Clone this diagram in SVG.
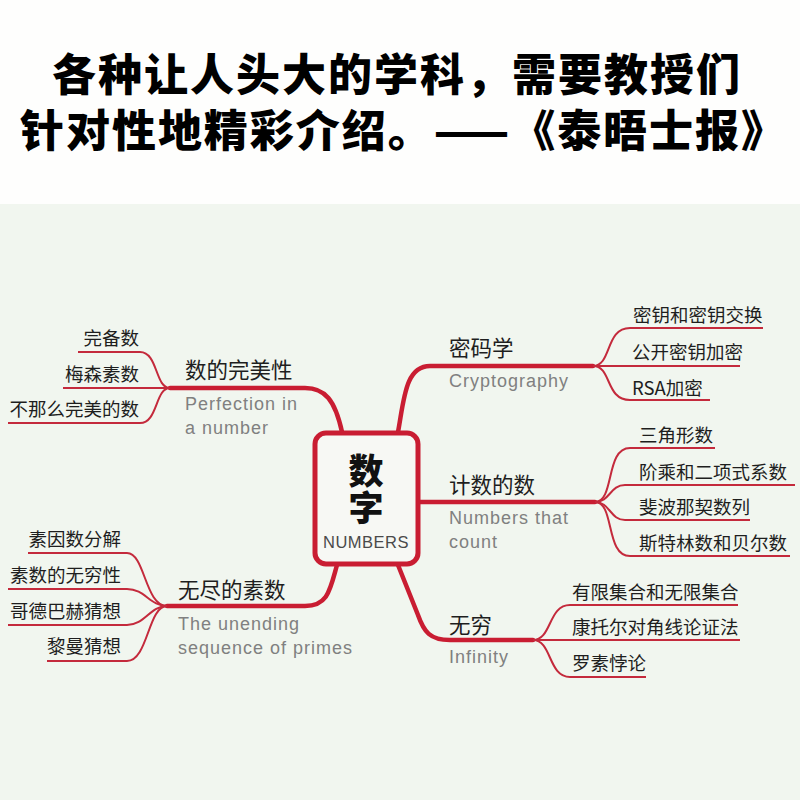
<svg xmlns="http://www.w3.org/2000/svg" width="800" height="800" viewBox="0 0 800 800">
<style>
.title{font-family:"Noto Sans CJK SC","Noto Sans",sans-serif;font-weight:900;font-size:44px;fill:#000}
.br{font-family:"Noto Sans CJK SC","Noto Sans",sans-serif;font-size:21.5px;fill:#1e1e1e}
.en{font-family:"Liberation Sans","Noto Sans",sans-serif;font-size:18px;letter-spacing:1px;fill:#808080}
.lf{font-family:"Noto Sans CJK SC","Noto Sans",sans-serif;font-size:18.5px;fill:#1e1e1e}
.lfr{font-family:"Noto Sans CJK SC","Noto Sans",sans-serif;font-size:18.5px;fill:#1e1e1e;text-anchor:end}
.main{fill:none;stroke:#c91d32;stroke-width:4.5;stroke-linecap:round;stroke-linejoin:round}
.sub{fill:none;stroke:#c42a3c;stroke-width:2}
</style>
<rect x="0" y="0" width="800" height="204" fill="#fefefd"/>
<rect x="0" y="204" width="800" height="596" fill="#f1f6ef"/>
<g id="title">
<text class="title" x="52" y="91" textLength="688" lengthAdjust="spacing">各种让人头大的学科，需要教授们</text>
<text class="title" x="20" y="147" textLength="765" lengthAdjust="spacing">针对性地精彩介绍。——《泰晤士报》</text>
</g>
<g id="connectors">
<path class="main" d="M170,388 L305,388 C325,388 335,400 342,432"/>
<path class="main" d="M398,432 C404,400 405,366 430,366 L593,366"/>
<path class="main" d="M420,502 L595,502"/>
<path class="main" d="M398,565 L418,615 C424,632 430,640 450,640 L533,640"/>
<path class="main" d="M337,565 C330,590 328,606 305,606 L167,606"/>
<path class="sub" d="M170,388 C155,388 158,352 140,352 L78,352"/>
<path class="sub" d="M170,388 L63,388"/>
<path class="sub" d="M170,388 C155,388 158,423 140,423 L8,423"/>
<path class="sub" d="M593,366 C612,366 605,328 630,328 L763,328"/>
<path class="sub" d="M593,366 L740,366"/>
<path class="sub" d="M593,366 C612,366 605,400 630,400 L710,400"/>
<path class="sub" d="M595,502 C615,502 605,448 630,448 L715,448"/>
<path class="sub" d="M595,502 C610,502 610,485 625,485 L795,485"/>
<path class="sub" d="M595,502 C610,502 610,520 625,520 L750,520"/>
<path class="sub" d="M595,502 C615,502 605,556 630,556 L790,556"/>
<path class="sub" d="M533,640 C552,640 548,605 570,605 L738,605"/>
<path class="sub" d="M533,640 L740,640"/>
<path class="sub" d="M533,640 C552,640 548,677 570,677 L646,677"/>
<path class="sub" d="M167,606 C145,606 145,553 127,553 L28,553"/>
<path class="sub" d="M167,606 C150,606 145,589 127,589 L8,589"/>
<path class="sub" d="M167,606 C150,606 145,625 127,625 L8,625"/>
<path class="sub" d="M167,606 C148,606 148,661 127,661 L47,661"/>
</g>
<g id="center">
<rect x="315" y="433" width="103" height="131" rx="11" fill="#f7f8f4" stroke="#c91d32" stroke-width="5"/>
<text x="366" y="484" style="font-family:'Noto Sans CJK SC',sans-serif;font-weight:900;font-size:35px;fill:#111;text-anchor:middle">数</text>
<text x="366" y="521" style="font-family:'Noto Sans CJK SC',sans-serif;font-weight:900;font-size:35px;fill:#111;text-anchor:middle">字</text>
<text x="366" y="548" style="font-family:'Liberation Sans',sans-serif;font-size:16.5px;letter-spacing:0.5px;fill:#4a4a4a;text-anchor:middle">NUMBERS</text>
</g>
<g id="perfection">
<text class="br" x="185" y="378">数的完美性</text>
<text class="en" x="185" y="410">Perfection in</text>
<text class="en" x="185" y="434">a number</text>
</g>
<g id="leaf-perfect"><text class="lfr" x="139" y="345">完备数</text></g>
<g id="leaf-mersenne"><text class="lfr" x="139" y="381">梅森素数</text></g>
<g id="leaf-imperfect"><text class="lfr" x="139" y="416">不那么完美的数</text></g>
<g id="crypto">
<text class="br" x="449" y="356">密码学</text>
<text class="en" x="449" y="387">Cryptography</text>
</g>
<g id="leaf-keyex"><text class="lf" x="633" y="322">密钥和密钥交换</text></g>
<g id="leaf-pubkey"><text class="lf" x="632" y="359">公开密钥加密</text></g>
<g id="leaf-rsa"><text class="lf" x="632" y="395">RSA加密</text></g>
<g id="counting">
<text class="br" x="449" y="493">计数的数</text>
<text class="en" x="449" y="524">Numbers that</text>
<text class="en" x="449" y="548">count</text>
</g>
<g id="leaf-tri"><text class="lf" x="639" y="442">三角形数</text></g>
<g id="leaf-fact"><text class="lf" x="639" y="479">阶乘和二项式系数</text></g>
<g id="leaf-fib"><text class="lf" x="639" y="514">斐波那契数列</text></g>
<g id="leaf-stirling"><text class="lf" x="639" y="550">斯特林数和贝尔数</text></g>
<g id="infinity">
<text class="br" x="449" y="633">无穷</text>
<text class="en" x="449" y="663">Infinity</text>
</g>
<g id="leaf-sets"><text class="lf" x="572" y="599">有限集合和无限集合</text></g>
<g id="leaf-cantor"><text class="lf" x="572" y="634">康托尔对角线论证法</text></g>
<g id="leaf-russell"><text class="lf" x="572" y="670">罗素悖论</text></g>
<g id="primes">
<text class="br" x="178" y="598">无尽的素数</text>
<text class="en" x="178" y="630">The unending</text>
<text class="en" x="178" y="654">sequence of primes</text>
</g>
<g id="leaf-factor"><text class="lfr" x="121" y="546">素因数分解</text></g>
<g id="leaf-infprimes"><text class="lfr" x="121" y="582">素数的无穷性</text></g>
<g id="leaf-goldbach"><text class="lfr" x="121" y="618">哥德巴赫猜想</text></g>
<g id="leaf-riemann"><text class="lfr" x="121" y="653">黎曼猜想</text></g>
</svg>
